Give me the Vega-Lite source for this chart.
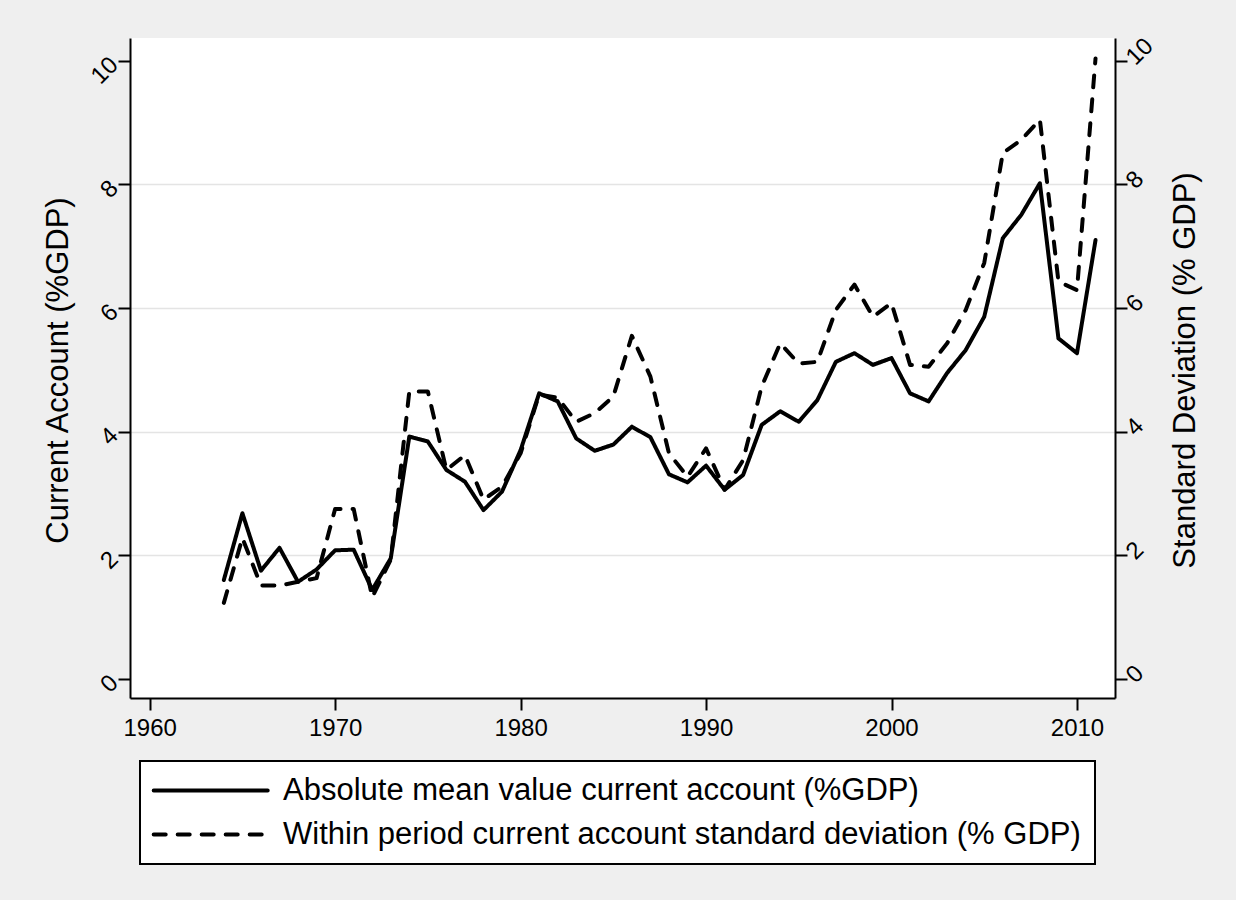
{
  "$schema": "https://vega.github.io/schema/vega-lite/v6.json",
  "autosize": {"type": "none"},
  "width": 985,
  "height": 660,
  "padding": {"left": 130, "top": 38, "right": 121, "bottom": 202},
  "background": "#efefef",
  "config": {
    "font": "Liberation Sans",
    "view": {"fill": "white", "stroke": null},
    "axis": {
      "domainColor": "black", "domainWidth": 2,
      "tickColor": "black", "tickWidth": 2, "tickSize": 12,
      "labelColor": "black", "labelFont": "Liberation Sans", "labelFontSize": 24,
      "titleColor": "black", "titleFont": "Liberation Sans", "titleFontSize": 31, "titleFontWeight": "normal"
    },
    "legend": {"strokeWidth": 2}
  },
  "data": {
    "values": [
      {"year": 1964, "mean": 1.60, "sd": 1.23},
      {"year": 1965, "mean": 2.68, "sd": 2.28},
      {"year": 1966, "mean": 1.75, "sd": 1.51},
      {"year": 1967, "mean": 2.12, "sd": 1.51},
      {"year": 1968, "mean": 1.57, "sd": 1.57},
      {"year": 1969, "mean": 1.77, "sd": 1.63},
      {"year": 1970, "mean": 2.08, "sd": 2.75},
      {"year": 1971, "mean": 2.09, "sd": 2.75},
      {"year": 1972, "mean": 1.44, "sd": 1.32},
      {"year": 1973, "mean": 1.95, "sd": 1.93},
      {"year": 1974, "mean": 3.92, "sd": 4.65},
      {"year": 1975, "mean": 3.84, "sd": 4.65},
      {"year": 1976, "mean": 3.38, "sd": 3.38},
      {"year": 1977, "mean": 3.19, "sd": 3.62},
      {"year": 1978, "mean": 2.73, "sd": 2.90},
      {"year": 1979, "mean": 3.03, "sd": 3.11},
      {"year": 1980, "mean": 3.70, "sd": 3.65},
      {"year": 1981, "mean": 4.62, "sd": 4.60},
      {"year": 1982, "mean": 4.49, "sd": 4.55},
      {"year": 1983, "mean": 3.89, "sd": 4.16},
      {"year": 1984, "mean": 3.69, "sd": 4.30},
      {"year": 1985, "mean": 3.79, "sd": 4.57},
      {"year": 1986, "mean": 4.08, "sd": 5.55},
      {"year": 1987, "mean": 3.91, "sd": 4.89},
      {"year": 1988, "mean": 3.31, "sd": 3.65},
      {"year": 1989, "mean": 3.18, "sd": 3.27},
      {"year": 1990, "mean": 3.45, "sd": 3.73},
      {"year": 1991, "mean": 3.06, "sd": 3.06},
      {"year": 1992, "mean": 3.30, "sd": 3.54},
      {"year": 1993, "mean": 4.11, "sd": 4.73},
      {"year": 1994, "mean": 4.33, "sd": 5.43},
      {"year": 1995, "mean": 4.16, "sd": 5.10},
      {"year": 1996, "mean": 4.51, "sd": 5.13},
      {"year": 1997, "mean": 5.13, "sd": 5.97},
      {"year": 1998, "mean": 5.27, "sd": 6.38},
      {"year": 1999, "mean": 5.08, "sd": 5.86},
      {"year": 2000, "mean": 5.19, "sd": 6.08},
      {"year": 2001, "mean": 4.62, "sd": 5.08},
      {"year": 2002, "mean": 4.49, "sd": 5.05},
      {"year": 2003, "mean": 4.95, "sd": 5.43},
      {"year": 2004, "mean": 5.32, "sd": 5.97},
      {"year": 2005, "mean": 5.86, "sd": 6.73},
      {"year": 2006, "mean": 7.13, "sd": 8.51},
      {"year": 2007, "mean": 7.51, "sd": 8.72},
      {"year": 2008, "mean": 8.02, "sd": 9.05},
      {"year": 2009, "mean": 5.51, "sd": 6.43},
      {"year": 2010, "mean": 5.27, "sd": 6.29},
      {"year": 2011, "mean": 7.10, "sd": 10.04}
    ]
  },
  "encoding": {
    "x": {
      "field": "year", "type": "quantitative",
      "scale": {"domain": [1958.94, 2012.05], "zero": false, "nice": false},
      "axis": {"values": [1960, 1970, 1980, 1990, 2000, 2010], "format": "d", "title": null, "grid": false, "labelPadding": 6}
    }
  },
  "layer": [
    {
      "mark": {"type": "line", "color": "black", "strokeWidth": 4, "strokeCap": "round", "strokeJoin": "round"},
      "encoding": {
        "y": {
          "field": "mean", "type": "quantitative",
          "scale": {"domain": [-0.31, 10.37], "zero": false, "nice": false},
          "axis": {
            "orient": "left", "values": [0, 2, 4, 6, 8, 10],
            "title": "Current Account (%GDP)",
            "labelAngle": -45, "labelAlign": "right", "labelBaseline": "middle", "labelPadding": 4,
            "grid": true, "gridWidth": 1.5,
            "gridColor": {"condition": {"test": "datum.value == 0 || datum.value == 10", "value": "transparent"}, "value": "#e4e4e4"},
            "titleAngle": -90, "titleX": -72, "titleY": 332, "titleAlign": "center", "titleBaseline": "middle"
          }
        },
        "strokeDash": {
          "datum": "Absolute mean value current account (%GDP)",
          "type": "nominal",
          "scale": {
            "domain": ["Absolute mean value current account (%GDP)", "Within period current account standard deviation (% GDP)"],
            "range": [[1, 0], [12, 12]]
          },
          "legend": {
            "orient": "none", "legendX": 10, "legendY": 723, "direction": "vertical", "title": null,
            "symbolType": "M-2.75,0H17.08", "symbolSize": 132.25, "symbolStrokeWidth": 4, "symbolStrokeColor": "black",
            "labelFontSize": 31, "labelFont": "Liberation Sans", "labelColor": "black", "labelLimit": 0, "labelOffset": 98,
            "strokeColor": "black", "fillColor": "white", "padding": 14, "rowPadding": 12, "cornerRadius": 0,
            "encode": {"symbols": {"update": {"strokeCap": {"value": "round"}}}}
          }
        }
      }
    },
    {
      "mark": {"type": "line", "color": "black", "strokeWidth": 4, "strokeCap": "round", "strokeJoin": "round"},
      "encoding": {
        "y": {
          "field": "sd", "type": "quantitative",
          "scale": {"domain": [-0.31, 10.37], "zero": false, "nice": false},
          "axis": {
            "orient": "right", "values": [0, 2, 4, 6, 8, 10],
            "title": "Standard Deviation (% GDP)",
            "labelAngle": -45, "labelAlign": "left", "labelBaseline": "middle", "labelPadding": 3,
            "grid": false,
            "titleAngle": -90, "titleX": 70, "titleY": 332, "titleAlign": "center", "titleBaseline": "middle"
          }
        },
        "strokeDash": {"datum": "Within period current account standard deviation (% GDP)", "type": "nominal"}
      }
    }
  ],
  "resolve": {"scale": {"y": "independent"}}
}
